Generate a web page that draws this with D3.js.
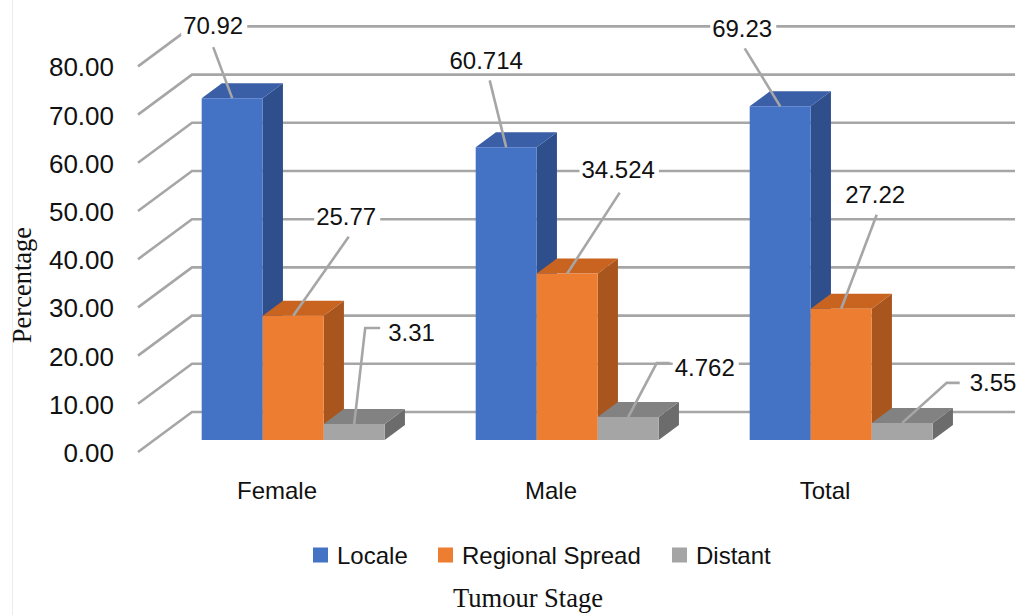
<!DOCTYPE html>
<html>
<head>
<meta charset="utf-8">
<script src="https://cdn.jsdelivr.net/npm/d3@7"></script>
<style>
  html, body { margin: 0; padding: 0; background: #fff; }
  svg { display: block; }
</style>
</head>
<body>
<svg id="chart" width="1019" height="615"></svg>
<script>
// Tumour stage by sex, percentage of cases
const categories = ["Female", "Male", "Total"];
const seriesNames = ["Locale", "Regional Spread", "Distant"];
const locale = [70.92, 60.714, 69.23];
const regional = [25.77, 34.524, 27.22];
const distant = [3.31, 4.762, 3.55];
const yTicks = [0, 10, 20, 30, 40, 50, 60, 70, 80];
const yTickLabels = ["0.00", "10.00", "20.00", "30.00", "40.00", "50.00", "60.00", "70.00", "80.00"];

const seriesValues = [locale, regional, distant];

// face colours: front, top, side
const palette = [
  { front: "#4472C4", top: "#3A5FA6", side: "#2E4E8C" },
  { front: "#ED7D31", top: "#C8641F", side: "#A9561E" },
  { front: "#A5A5A5", top: "#828282", side: "#6C6C6C" }
];

// data label placement relative to the top-front edge centre of each bar
// [series][category]: text centre (tx, ty) and leader path points
const labelLayout = [
  [
    { tx: -19, ty: -73, path: [[-19, -51]] },
    { tx: -20, ty: -87, path: [[-16.5, -67]] },
    { tx: -38, ty: -78, path: [[-35.5, -58]] }
  ],
  [
    { tx: 53, ty: -99, path: [[55.5, -79]] },
    { tx: 51, ty: -104, path: [[52.5, -81]] },
    { tx: 34, ty: -114, path: [[35.5, -94]] }
  ],
  [
    { tx: 34, ty: -92, anchor: "start", path: [[26, -96], [11, -96]] },
    { tx: 46.5, ty: -50, anchor: "start", path: [[41.5, -54], [28.5, -54]] },
    { tx: 67.5, ty: -40, anchor: "start", path: [[57.5, -40], [44.5, -40]] }
  ]
];

const svg = d3.select("#chart");

// depth projection: one unit of depth moves right and up
const DX = 54, DY = 40;
const wallLeft = 138, wallRight = 961;
const barZ0 = 0.3, barZ1 = 0.675;

const x0 = d3.scaleBand().domain(categories).range([140, 962]);
const groupWidth = 183;
const x1 = d3.scaleBand().domain(seriesNames).range([0, groupWidth]);
const y = d3.scaleLinear().domain([0, 80]).range([452, 66.4]);

const P = (x, v, z) => [x + z * DX, y(v) - z * DY];

// faint frame edge
svg.append("line")
  .attr("x1", 12.5).attr("x2", 12.5).attr("y1", 0).attr("y2", 615)
  .attr("stroke", "#ececec").attr("stroke-width", 1);

// gridlines: side wall diagonal plus back wall horizontal
const line = d3.line();
svg.append("g").selectAll("path")
  .data(yTicks)
  .join("path")
  .attr("d", v => line([P(wallLeft, v, 0), P(wallLeft, v, 1), P(wallRight, v, 1)]))
  .attr("fill", "none")
  .attr("stroke", "#A6A6A6")
  .attr("stroke-width", 2.6);

// y tick labels
svg.append("g").selectAll("text")
  .data(yTicks)
  .join("text")
  .attr("x", 114)
  .attr("y", v => y(v) + 1)
  .attr("text-anchor", "end")
  .attr("dominant-baseline", "central")
  .attr("font-family", "'Liberation Sans', Arial, sans-serif")
  .attr("font-size", 26)
  .attr("fill", "#111")
  .text((v, i) => yTickLabels[i]);

// bars
const bars = [];
categories.forEach((c, ci) => {
  seriesNames.forEach((s, si) => {
    const v = seriesValues[si][ci];
    const left = x0(c) + (x0.bandwidth() - groupWidth) / 2 + x1(s);
    bars.push({ c, ci, s, si, v, left, right: left + x1.bandwidth() });
  });
});

const barG = svg.append("g");
bars.forEach(b => {
  const col = palette[b.si];
  const g = barG.append("g");
  const poly = pts => "M" + pts.map(p => p.join(",")).join("L") + "Z";
  // side face
  g.append("path")
    .attr("d", poly([P(b.right, b.v, barZ0), P(b.right, b.v, barZ1), P(b.right, 0, barZ1), P(b.right, 0, barZ0)]))
    .attr("fill", col.side);
  // top face
  g.append("path")
    .attr("d", poly([P(b.left, b.v, barZ0), P(b.right, b.v, barZ0), P(b.right, b.v, barZ1), P(b.left, b.v, barZ1)]))
    .attr("fill", col.top);
  // front face
  g.append("path")
    .attr("d", poly([P(b.left, b.v, barZ0), P(b.right, b.v, barZ0), P(b.right, 0, barZ0), P(b.left, 0, barZ0)]))
    .attr("fill", col.front);
});

// data labels with leader lines
const labelG = svg.append("g");
bars.forEach(b => {
  const lay = labelLayout[b.si][b.ci];
  const ax = (b.left + b.right) / 2 + barZ0 * DX;
  const ay = y(b.v) - barZ0 * DY;
  const pts = lay.path.map(p => [ax + p[0], ay + p[1]]).concat([[ax, ay]]);
  const t = labelG.append("text")
    .attr("x", ax + lay.tx)
    .attr("y", ay + lay.ty)
    .attr("text-anchor", lay.anchor || "middle")
    .attr("dominant-baseline", "central")
    .attr("font-family", "'Liberation Sans', Arial, sans-serif")
    .attr("font-size", 24)
    .attr("fill", "#111")
    .text(String(b.v));
  const bb = t.node().getBBox();
  labelG.insert("rect", "text")
    .attr("x", bb.x - 2).attr("y", bb.y + 3)
    .attr("width", bb.width + 6).attr("height", bb.height - 6)
    .attr("fill", "#fff");
  labelG.append("path")
    .attr("d", line(pts))
    .attr("fill", "none")
    .attr("stroke", "#A6A6A6")
    .attr("stroke-width", 2.6);
});

// category labels
svg.append("g").selectAll("text")
  .data(categories)
  .join("text")
  .attr("x", c => x0(c) + x0.bandwidth() / 2)
  .attr("y", 490)
  .attr("text-anchor", "middle")
  .attr("dominant-baseline", "central")
  .attr("font-family", "'Liberation Sans', Arial, sans-serif")
  .attr("font-size", 24)
  .attr("fill", "#111")
  .text(c => c);

// legend
const legendX = [313, 438, 672];
const legend = svg.append("g").selectAll("g")
  .data(seriesNames)
  .join("g")
  .attr("transform", (s, i) => `translate(${legendX[i]},555)`);
legend.append("rect")
  .attr("x", 0).attr("y", -7.5).attr("width", 15).attr("height", 15)
  .attr("fill", (s, i) => palette[i].front);
legend.append("text")
  .attr("x", 24).attr("y", 0)
  .attr("dominant-baseline", "central")
  .attr("font-family", "'Liberation Sans', Arial, sans-serif")
  .attr("font-size", 24)
  .attr("fill", "#111")
  .text(s => s);

// axis titles
svg.append("text")
  .attr("transform", "translate(22,285) rotate(-90)")
  .attr("text-anchor", "middle")
  .attr("dominant-baseline", "central")
  .attr("font-family", "'Liberation Serif', 'Times New Roman', serif")
  .attr("font-size", 26.5)
  .attr("fill", "#111")
  .text("Percentage");

svg.append("text")
  .attr("x", 528).attr("y", 598)
  .attr("text-anchor", "middle")
  .attr("dominant-baseline", "central")
  .attr("font-family", "'Liberation Serif', 'Times New Roman', serif")
  .attr("font-size", 26.5)
  .attr("fill", "#111")
  .text("Tumour Stage");
</script>
</body>
</html>
